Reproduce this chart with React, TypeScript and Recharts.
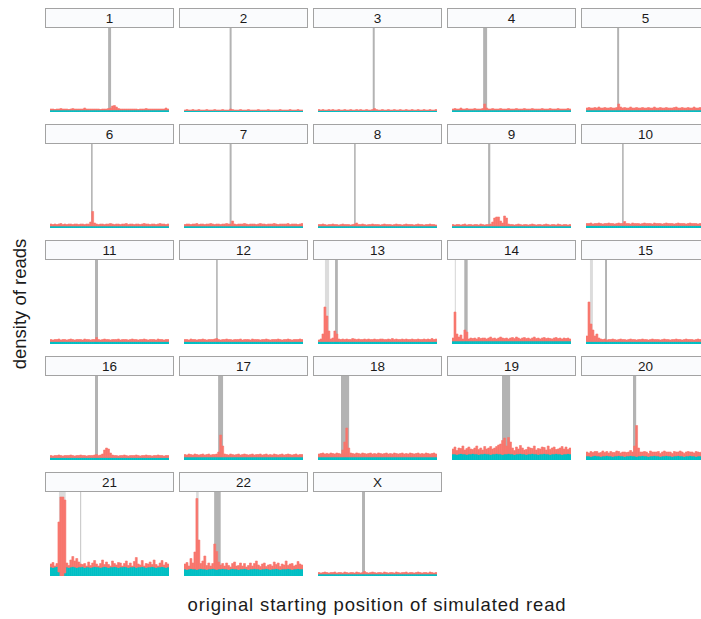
import React from 'react';
import { BarChart, Bar, XAxis, YAxis, ReferenceArea } from 'recharts';

// every chromosome is cut into the same number of bins (free x scale per facet)
const NBINS = 60;
const FONT = "'Liberation Sans', Arial, Helvetica, sans-serif";
const TEAL = '#00BFC4';
const RED = '#F8766D';

const chromosomes = ['1', '2', '3', '4', '5', '6', '7', '8', '9', '10', '11', '12',
  '13', '14', '15', '16', '17', '18', '19', '20', '21', '22', 'X'];

// density of reads per bin, teal = bottom part, red = part stacked on top
const teal1 = [
  2, 2, 2, 2, 2, 2, 2, 2, 2, 2,
  2, 2, 2, 2, 2, 2, 2, 2, 2, 2,
  2, 2, 2, 2, 2, 2, 2, 2, 2, 2,
  2, 2, 2, 2, 2, 2, 2, 2, 2, 2,
  2, 2, 2, 2, 2, 2, 2, 2, 2, 2,
  2, 2, 2, 2, 2, 2, 2, 2, 2, 2,
];
const red1 = [
  1, 1, 0.5, 1, 1, 1.5, 1, 1, 1, 0.5,
  1, 1.5, 1, 1, 1, 1, 1, 2, 1, 1,
  1, 1, 1, 1, 1, 0.5, 1, 1, 1, 1.5,
  2, 4, 4.5, 3, 1.5, 1, 1, 1, 1, 1,
  1, 1, 1, 1, 0.5, 1, 1, 1, 1.5, 1,
  1, 1, 1, 1, 1, 1, 1, 1, 2, 1,
];
const teal2 = [
  1.5, 1.5, 1.5, 1.5, 1.5, 1.5, 1.5, 1.5, 1.5, 1.5,
  1.5, 1.5, 1.5, 1.5, 1.5, 1.5, 1.5, 1.5, 1.5, 1.5,
  1.5, 1.5, 1.5, 1.5, 1.5, 1.5, 1.5, 1.5, 1.5, 1.5,
  1.5, 1.5, 1.5, 1.5, 1.5, 1.5, 1.5, 1.5, 1.5, 1.5,
  1.5, 1.5, 1.5, 1.5, 1.5, 1.5, 1.5, 1.5, 1.5, 1.5,
  1.5, 1.5, 1.5, 1.5, 1.5, 1.5, 1.5, 1.5, 1.5, 1.5,
];
const red2 = [
  0.5, 1, 0.5, 0.5, 1, 0.5, 0.5, 1, 0.5, 0.5,
  0.5, 1, 0.5, 0.5, 0.5, 1, 0.5, 0.5, 0.5, 1,
  0.5, 0.5, 0.5, 1.5, 1, 0.5, 0.5, 0.5, 1, 0.5,
  0.5, 0.5, 1, 0.5, 0.5, 0.5, 0.5, 1, 0.5, 0.5,
  0.5, 0.5, 1, 0.5, 0.5, 0.5, 0.5, 0.5, 1, 0.5,
  0.5, 0.5, 0.5, 1, 0.5, 0.5, 0.5, 1, 0.5, 0.5,
];
const teal3 = [
  1.5, 1.5, 1.5, 1.5, 1.5, 1.5, 1.5, 1.5, 1.5, 1.5,
  1.5, 1.5, 1.5, 1.5, 1.5, 1.5, 1.5, 1.5, 1.5, 1.5,
  1.5, 1.5, 1.5, 1.5, 1.5, 1.5, 1.5, 1.5, 1.5, 1.5,
  1.5, 1.5, 1.5, 1.5, 1.5, 1.5, 1.5, 1.5, 1.5, 1.5,
  1.5, 1.5, 1.5, 1.5, 1.5, 1.5, 1.5, 1.5, 1.5, 1.5,
  1.5, 1.5, 1.5, 1.5, 1.5, 1.5, 1.5, 1.5, 1.5, 1.5,
];
const red3 = [
  1, 0.5, 1, 0.5, 0.5, 1, 0.5, 1, 0.5, 0.5,
  1, 0.5, 0.5, 1, 0.5, 0.5, 1, 0.5, 0.5, 1,
  0.5, 1, 0.5, 0.5, 1, 0.5, 0.5, 1, 2, 1,
  0.5, 0.5, 1, 0.5, 0.5, 1, 0.5, 0.5, 1, 0.5,
  0.5, 1, 0.5, 0.5, 1, 0.5, 0.5, 1, 0.5, 0.5,
  1, 0.5, 0.5, 1, 0.5, 0.5, 1, 0.5, 0.5, 1,
];
const teal4 = [
  2, 2, 2, 2, 2, 2, 2, 2, 2, 2,
  2, 2, 2, 2, 2, 2, 2, 2, 2, 2,
  2, 2, 2, 2, 2, 2, 2, 2, 2, 2,
  2, 2, 2, 2, 2, 2, 2, 2, 2, 2,
  2, 2, 2, 2, 2, 2, 2, 2, 2, 2,
  2, 2, 2, 2, 2, 2, 2, 2, 2, 2,
];
const red4 = [
  1, 1.5, 1, 1, 2, 1, 1, 1.5, 1, 1,
  1, 1.5, 1, 1, 1, 1.5, 6, 2, 1, 1,
  1.5, 1, 1, 1, 1.5, 1, 1, 1, 1.5, 1,
  1, 1, 1.5, 1, 1, 1, 1.5, 1, 1, 1,
  1.5, 1, 1, 1, 1, 1.5, 1, 1, 1, 1.5,
  1, 1, 1, 1.5, 1, 1, 1, 1, 1.5, 1,
];
const teal5 = [
  2, 2, 2, 2, 2, 2, 2, 2, 2, 2,
  2, 2, 2, 2, 2, 2, 2, 2, 2, 2,
  2, 2, 2, 2, 2, 2, 2, 2, 2, 2,
  2, 2, 2, 2, 2, 2, 2, 2, 2, 2,
  2, 2, 2, 2, 2, 2, 2, 2, 2, 2,
  2, 2, 2, 2, 2, 2, 2, 2, 2, 2,
];
const red5 = [
  2, 2.5, 2, 2, 2.5, 2, 3, 2, 2, 2.5,
  2, 2, 2.5, 2, 2, 2.5, 6, 3, 2, 2.5,
  2, 2, 3, 2, 2, 2.5, 2, 2, 2.5, 2,
  2, 2.5, 2, 2, 3, 2, 2, 2.5, 2, 2,
  2.5, 2, 2, 2, 2.5, 3, 2, 2, 2.5, 2,
  2, 2.5, 2, 2, 3, 2, 2, 2.5, 2, 2,
];
const teal6 = [
  2, 2, 2, 2, 2, 2, 2, 2, 2, 2,
  2, 2, 2, 2, 2, 2, 2, 2, 2, 2,
  2, 2, 2, 2, 2, 2, 2, 2, 2, 2,
  2, 2, 2, 2, 2, 2, 2, 2, 2, 2,
  2, 2, 2, 2, 2, 2, 2, 2, 2, 2,
  2, 2, 2, 2, 2, 2, 2, 2, 2, 2,
];
const red6 = [
  2, 1.5, 2, 1.5, 2, 2.5, 1.5, 2, 1.5, 2,
  2, 1.5, 2, 2, 1.5, 2, 2, 1.5, 2, 2,
  4, 14.5, 3, 2, 1.5, 2, 2, 1.5, 2, 2,
  2.5, 2, 1.5, 2, 2, 1.5, 2, 2, 2.5, 1.5,
  2, 2, 1.5, 2, 2, 1.5, 2, 2.5, 2, 2,
  1.5, 2, 2, 1.5, 2, 2.5, 2, 2, 1.5, 2,
];
const teal7 = [
  2, 2, 2, 2, 2, 2, 2, 2, 2, 2,
  2, 2, 2, 2, 2, 2, 2, 2, 2, 2,
  2, 2, 2, 2, 2, 2, 2, 2, 2, 2,
  2, 2, 2, 2, 2, 2, 2, 2, 2, 2,
  2, 2, 2, 2, 2, 2, 2, 2, 2, 2,
  2, 2, 2, 2, 2, 2, 2, 2, 2, 2,
];
const red7 = [
  1.5, 2, 2, 1.5, 2, 2, 2.5, 1.5, 2, 2,
  1.5, 2, 2, 2.5, 2, 1.5, 2, 2, 1.5, 2,
  2, 2.5, 2, 2, 5, 2, 1.5, 2, 2, 2,
  2.5, 2, 1.5, 2, 2, 2, 1.5, 2, 2.5, 2,
  2, 1.5, 2, 2, 2, 2.5, 2, 1.5, 2, 2,
  2, 2, 2.5, 1.5, 2, 2, 2, 1.5, 2, 2.5,
];
const teal8 = [
  2, 2, 2, 2, 2, 2, 2, 2, 2, 2,
  2, 2, 2, 2, 2, 2, 2, 2, 2, 2,
  2, 2, 2, 2, 2, 2, 2, 2, 2, 2,
  2, 2, 2, 2, 2, 2, 2, 2, 2, 2,
  2, 2, 2, 2, 2, 2, 2, 2, 2, 2,
  2, 2, 2, 2, 2, 2, 2, 2, 2, 2,
];
const red8 = [
  1.5, 1.5, 2, 1.5, 1, 1.5, 1.5, 2, 1.5, 1.5,
  1, 1.5, 2, 1.5, 1.5, 1.5, 1, 1.5, 2, 3,
  1.5, 1.5, 2, 1.5, 1, 1.5, 1.5, 2, 1.5, 1.5,
  1.5, 1, 1.5, 2, 1.5, 1.5, 1.5, 1, 1.5, 2,
  1.5, 1.5, 1, 1.5, 2, 1.5, 1.5, 1.5, 1, 1.5,
  2, 1.5, 1.5, 1, 1.5, 1.5, 2, 1.5, 1.5, 1,
];
const teal9 = [
  2, 2, 2, 2, 2, 2, 2, 2, 2, 2,
  2, 2, 2, 2, 2, 2, 2, 2, 2, 2,
  2, 2, 2, 2, 2, 2, 2, 2, 2, 2,
  2, 2, 2, 2, 2, 2, 2, 2, 2, 2,
  2, 2, 2, 2, 2, 2, 2, 2, 2, 2,
  2, 2, 2, 2, 2, 2, 2, 2, 2, 2,
];
const red9 = [
  1.5, 1, 1.5, 1.5, 1, 1.5, 2, 1, 1.5, 1.5,
  1, 1.5, 1.5, 1, 2, 1.5, 1, 1.5, 1.5, 2,
  4, 8, 9, 9, 5, 3, 10, 8, 2, 1.5,
  1.5, 1, 1.5, 2, 1.5, 1, 1.5, 1.5, 1, 1.5,
  2, 1.5, 1, 1.5, 1.5, 1, 1.5, 2, 1.5, 1,
  1.5, 1.5, 1, 2, 1.5, 1, 1.5, 1.5, 1, 1.5,
];
const teal10 = [
  2.5, 2.5, 2.5, 2.5, 2.5, 2.5, 2.5, 2.5, 2.5, 2.5,
  2.5, 2.5, 2.5, 2.5, 2.5, 2.5, 2.5, 2.5, 2.5, 2.5,
  2.5, 2.5, 2.5, 2.5, 2.5, 2.5, 2.5, 2.5, 2.5, 2.5,
  2.5, 2.5, 2.5, 2.5, 2.5, 2.5, 2.5, 2.5, 2.5, 2.5,
  2.5, 2.5, 2.5, 2.5, 2.5, 2.5, 2.5, 2.5, 2.5, 2.5,
  2.5, 2.5, 2.5, 2.5, 2.5, 2.5, 2.5, 2.5, 2.5, 2.5,
];
const red10 = [
  2, 2, 2.5, 1.5, 2, 2, 2.5, 2, 1.5, 2,
  2, 2.5, 2, 2, 1.5, 2, 2.5, 2, 2, 4,
  2, 2, 1.5, 2.5, 2, 2, 2, 1.5, 2, 2.5,
  2, 2, 2, 1.5, 2.5, 2, 2, 2, 1.5, 2,
  2.5, 2, 2, 2, 1.5, 2, 2.5, 2, 2, 2,
  1.5, 2, 2.5, 2, 2, 2, 1.5, 2, 2.5, 2,
];
const teal11 = [
  2.5, 2.5, 2.5, 2.5, 2.5, 2.5, 2.5, 2.5, 2.5, 2.5,
  2.5, 2.5, 2.5, 2.5, 2.5, 2.5, 2.5, 2.5, 2.5, 2.5,
  2.5, 2.5, 2.5, 2.5, 2.5, 2.5, 2.5, 2.5, 2.5, 2.5,
  2.5, 2.5, 2.5, 2.5, 2.5, 2.5, 2.5, 2.5, 2.5, 2.5,
  2.5, 2.5, 2.5, 2.5, 2.5, 2.5, 2.5, 2.5, 2.5, 2.5,
  2.5, 2.5, 2.5, 2.5, 2.5, 2.5, 2.5, 2.5, 2.5, 2.5,
];
const red11 = [
  2, 1.5, 2, 2, 2.5, 1.5, 2, 2, 1.5, 2,
  2.5, 2, 1.5, 2, 2, 2, 1.5, 2.5, 2, 2,
  1.5, 2, 2, 4, 2, 1.5, 2, 2.5, 2, 2,
  1.5, 2, 2, 2, 2.5, 1.5, 2, 2, 2, 1.5,
  2, 2.5, 2, 2, 1.5, 2, 2, 2.5, 2, 1.5,
  2, 2, 2, 1.5, 2.5, 2, 2, 1.5, 2, 2,
];
const teal12 = [
  2.5, 2.5, 2.5, 2.5, 2.5, 2.5, 2.5, 2.5, 2.5, 2.5,
  2.5, 2.5, 2.5, 2.5, 2.5, 2.5, 2.5, 2.5, 2.5, 2.5,
  2.5, 2.5, 2.5, 2.5, 2.5, 2.5, 2.5, 2.5, 2.5, 2.5,
  2.5, 2.5, 2.5, 2.5, 2.5, 2.5, 2.5, 2.5, 2.5, 2.5,
  2.5, 2.5, 2.5, 2.5, 2.5, 2.5, 2.5, 2.5, 2.5, 2.5,
  2.5, 2.5, 2.5, 2.5, 2.5, 2.5, 2.5, 2.5, 2.5, 2.5,
];
const red12 = [
  2, 2, 1.5, 2.5, 2, 2, 1.5, 2, 2, 2.5,
  2, 1.5, 2, 2, 2, 2.5, 3, 2, 1.5, 2,
  2, 2.5, 2, 2, 1.5, 2, 2, 2, 2.5, 1.5,
  2, 2, 2, 1.5, 2.5, 2, 2, 2, 1.5, 2,
  2, 2.5, 2, 1.5, 2, 2, 2, 2.5, 2, 1.5,
  2, 2, 2.5, 2, 1.5, 2, 2, 2, 2.5, 2,
];
const teal13 = [
  2.5, 2.5, 2.5, 2.5, 2.5, 2.5, 2.5, 2.5, 2.5, 2.5,
  2.5, 2.5, 2.5, 2.5, 2.5, 2.5, 2.5, 2.5, 2.5, 2.5,
  2.5, 2.5, 2.5, 2.5, 2.5, 2.5, 2.5, 2.5, 2.5, 2.5,
  2.5, 2.5, 2.5, 2.5, 2.5, 2.5, 2.5, 2.5, 2.5, 2.5,
  2.5, 2.5, 2.5, 2.5, 2.5, 2.5, 2.5, 2.5, 2.5, 2.5,
  2.5, 2.5, 2.5, 2.5, 2.5, 2.5, 2.5, 2.5, 2.5, 2.5,
];
const red13 = [
  1.5, 2.5, 7.5, 34.5, 25.5, 10.5, 2.5, 3.5, 10.5, 7.5,
  2.5, 2, 2.5, 2, 2.5, 2, 2, 3, 2.5, 2,
  2.5, 2, 2, 2.5, 2, 2.5, 2, 2, 2.5, 2,
  2, 2.5, 2.5, 2, 2, 2.5, 2, 3, 2, 2.5,
  2, 2, 2.5, 2, 2.5, 2, 2, 2.5, 2, 2,
  2.5, 2, 2, 2.5, 2, 2.5, 2, 3, 2, 2.5,
];
const teal14 = [
  3, 3, 3, 3, 3, 3, 3, 3, 3, 3,
  3, 3, 3, 3, 3, 3, 3, 3, 3, 3,
  3, 3, 3, 3, 3, 3, 3, 3, 3, 3,
  3, 3, 3, 3, 3, 3, 3, 3, 3, 3,
  3, 3, 3, 3, 3, 3, 3, 3, 3, 3,
  3, 3, 3, 3, 3, 3, 3, 3, 3, 3,
];
const red14 = [
  3, 29, 7, 4, 6, 2, 11, 9, 2, 3,
  2.5, 3, 2, 3.5, 2.5, 3, 3, 2, 3, 4,
  2.5, 3, 2, 3, 4, 3, 2.5, 3, 2, 3,
  3.5, 2.5, 4, 3, 2, 3, 3.5, 2.5, 3, 2,
  3, 4, 2.5, 3, 2, 3, 3.5, 2.5, 3, 2.5,
  2, 3, 3.5, 2.5, 3, 2, 3, 2.5, 3, 2,
];
const teal15 = [
  2.5, 2.5, 2.5, 2.5, 2.5, 2.5, 2.5, 2.5, 2.5, 2.5,
  2.5, 2.5, 2.5, 2.5, 2.5, 2.5, 2.5, 2.5, 2.5, 2.5,
  2.5, 2.5, 2.5, 2.5, 2.5, 2.5, 2.5, 2.5, 2.5, 2.5,
  2.5, 2.5, 2.5, 2.5, 2.5, 2.5, 2.5, 2.5, 2.5, 2.5,
  2.5, 2.5, 2.5, 2.5, 2.5, 2.5, 2.5, 2.5, 2.5, 2.5,
  2.5, 2.5, 2.5, 2.5, 2.5, 2.5, 2.5, 2.5, 2.5, 2.5,
];
const red15 = [
  5.5, 39.5, 17.5, 11.5, 5.5, 7.5, 3.5, 2.5, 2, 2.5,
  1.5, 2, 2, 2.5, 2, 1.5, 2, 2.5, 2, 2,
  1.5, 2, 2.5, 2, 2, 1.5, 2, 2, 2.5, 2,
  2, 1.5, 2, 2.5, 2, 2, 2, 1.5, 2, 2.5,
  2, 2, 1.5, 2, 2, 2.5, 2, 2, 1.5, 2,
  2.5, 2, 2, 2, 1.5, 2, 2.5, 2, 2, 1.5,
];
const teal16 = [
  2.5, 2.5, 2.5, 2.5, 2.5, 2.5, 2.5, 2.5, 2.5, 2.5,
  2.5, 2.5, 2.5, 2.5, 2.5, 2.5, 2.5, 2.5, 2.5, 2.5,
  2.5, 2.5, 2.5, 2.5, 2.5, 2.5, 2.5, 2.5, 2.5, 2.5,
  2.5, 2.5, 2.5, 2.5, 2.5, 2.5, 2.5, 2.5, 2.5, 2.5,
  2.5, 2.5, 2.5, 2.5, 2.5, 2.5, 2.5, 2.5, 2.5, 2.5,
  2.5, 2.5, 2.5, 2.5, 2.5, 2.5, 2.5, 2.5, 2.5, 2.5,
];
const red16 = [
  2, 1.5, 2, 2, 2.5, 2, 1.5, 2, 2, 2,
  2.5, 2, 1.5, 2, 2, 2.5, 2, 2, 1.5, 2,
  2, 2, 2.5, 3, 2, 2.5, 3.5, 7.5, 9.5, 8.5,
  4.5, 2.5, 2, 2, 1.5, 2, 2, 2.5, 2, 1.5,
  2, 2, 2, 2.5, 2, 1.5, 2, 2, 2.5, 2,
  2, 1.5, 2, 2, 2.5, 2, 2, 1.5, 2, 2,
];
const teal17 = [
  3, 3, 3, 3, 3, 3, 3, 3, 3, 3,
  3, 3, 3, 3, 3, 3, 3, 3, 3, 3,
  3, 3, 3, 3, 3, 3, 3, 3, 3, 3,
  3, 3, 3, 3, 3, 3, 3, 3, 3, 3,
  3, 3, 3, 3, 3, 3, 3, 3, 3, 3,
  3, 3, 3, 3, 3, 3, 3, 3, 3, 3,
];
const red17 = [
  2.5, 2, 3, 2.5, 2, 3, 2.5, 2, 2.5, 3,
  2, 2.5, 3, 2, 2.5, 2.5, 3, 5, 22, 11,
  3, 2.5, 2, 3, 2.5, 2, 2.5, 3, 2, 2.5,
  3, 2.5, 2, 2.5, 3, 2, 2.5, 2.5, 3, 2,
  2.5, 3, 2, 2.5, 2, 3, 2.5, 2, 2.5, 3,
  2, 2.5, 3, 2.5, 2, 2.5, 3, 2, 2.5, 2.5,
];
const teal18 = [
  3, 3, 3, 3, 3, 3, 3, 3, 3, 3,
  3, 3, 3, 3, 3, 3, 3, 3, 3, 3,
  3, 3, 3, 3, 3, 3, 3, 3, 3, 3,
  3, 3, 3, 3, 3, 3, 3, 3, 3, 3,
  3, 3, 3, 3, 3, 3, 3, 3, 3, 3,
  3, 3, 3, 3, 3, 3, 3, 3, 3, 3,
];
const red18 = [
  3, 3.5, 4, 3, 3.5, 3, 4, 3.5, 3, 4,
  3.5, 3, 7, 15, 29, 9, 4, 3.5, 3, 4,
  3.5, 3, 4, 3.5, 3, 3.5, 4, 3, 3.5, 3,
  4, 3.5, 3, 3.5, 4, 3, 3.5, 3, 4, 3.5,
  3, 3.5, 4, 3, 3.5, 3, 4, 3.5, 3, 3.5,
  4, 3, 3.5, 3, 4, 3.5, 3, 3.5, 4, 3,
];
const teal19 = [
  6, 6, 5.5, 6, 6.5, 6, 6, 5.5, 6, 6,
  6.5, 6, 6, 5.5, 6, 6, 6.5, 6, 6, 5.5,
  6, 6, 6.5, 6, 6, 5.5, 6, 6, 6.5, 6,
  6, 5.5, 6, 6, 6.5, 6, 6, 5.5, 6, 6,
  6.5, 6, 6, 5.5, 6, 6, 6.5, 6, 6, 5.5,
  6, 6, 6.5, 6, 6, 5.5, 6, 6, 6.5, 6,
];
const red19 = [
  5, 7, 4, 6, 5, 8, 4, 6, 7, 5,
  4, 6, 8, 5, 6, 4, 7, 5, 6, 8,
  5, 6, 7, 9, 10, 14, 16, 8, 16, 12,
  6, 4, 7, 5, 8, 6, 4, 5, 7, 6,
  5, 8, 4, 6, 5, 7, 6, 4, 8, 5,
  6, 7, 4, 5, 6, 8, 5, 7, 4, 6,
];
const teal20 = [
  4, 4, 3.5, 4, 4.5, 4, 4, 3.5, 4, 4,
  4.5, 4, 4, 3.5, 4, 4, 4.5, 4, 4, 3.5,
  4, 4, 4.5, 4, 4, 3.5, 4, 4, 4.5, 4,
  4, 3.5, 4, 4, 4.5, 4, 4, 3.5, 4, 4,
  4.5, 4, 4, 3.5, 4, 4, 4.5, 4, 4, 3.5,
  4, 4, 4.5, 4, 4, 3.5, 4, 4, 4.5, 4,
];
const red20 = [
  4, 3, 5, 3.5, 4, 4.5, 3, 4, 5, 3.5,
  4, 3, 4.5, 4, 3.5, 5, 4, 3, 4, 4.5,
  3.5, 4, 5, 4, 10, 31, 8, 4, 3.5, 4.5,
  4, 3, 5, 4, 3.5, 4, 4.5, 3, 4, 5,
  3.5, 4, 4, 3, 4.5, 4, 3.5, 5, 4, 3,
  4, 4.5, 3.5, 4, 3, 5, 4, 3.5, 4, 4.5,
];
const teal21 = [
  9, 8.5, 9, 9.5, 4, 0, 0, 3, 9, 8.5,
  9, 9.5, 9, 8.5, 9, 9, 9.5, 8.5, 9, 9,
  8.5, 9, 9.5, 9, 9, 8.5, 9, 9.5, 9, 8.5,
  9, 9, 9.5, 9, 8.5, 9, 9, 9.5, 9, 8.5,
  9, 9, 9.5, 8.5, 9, 9, 9.5, 9, 8.5, 9,
  9, 9.5, 9, 8.5, 9, 9, 9.5, 9, 8.5, 9,
];
const red21 = [
  3, 5, 1, 3, 50, 79, 79, 73, 4, 2,
  7, 10, 6, 9, 5, 3, 2, 4, 1, 5,
  2, 4, 6, 3, 1, 4, 7, 2, 5, 3,
  1, 6, 3, 2, 5, 4, 1, 3, 6, 2,
  4, 1, 5, 10, 3, 2, 6, 1, 4, 3,
  5, 2, 7, 3, 1, 4, 6, 2, 5, 3,
];
const teal22 = [
  7, 6.5, 7, 7.5, 7, 7, 6.5, 7, 7.5, 7,
  7, 6.5, 7, 7, 7.5, 7, 6.5, 7, 7, 7.5,
  7, 7, 6.5, 7, 7.5, 7, 7, 6.5, 7, 7,
  7.5, 7, 6.5, 7, 7, 7.5, 7, 7, 6.5, 7,
  7, 7.5, 7, 6.5, 7, 7, 7.5, 7, 6.5, 7,
  7, 7, 7.5, 7, 6.5, 7, 7, 7.5, 7, 7,
];
const red22 = [
  5, 7, 3, 10, 6, 17, 71, 29, 5, 8,
  13, 4, 6, 3, 5, 25, 18, 7, 4, 5,
  3, 6, 4, 2, 5, 7, 3, 4, 6, 3,
  5, 2, 4, 6, 3, 5, 8, 4, 3, 5,
  6, 2, 4, 5, 3, 7, 4, 6, 3, 5,
  4, 8, 3, 5, 6, 3, 4, 7, 5, 4,
];
const tealX = [
  2, 2, 2, 2, 2, 2, 2, 2, 2, 2,
  2, 2, 2, 2, 2, 2, 2, 2, 2, 2,
  2, 2, 2, 2, 2, 2, 2, 2, 2, 2,
  2, 2, 2, 2, 2, 2, 2, 2, 2, 2,
  2, 2, 2, 2, 2, 2, 2, 2, 2, 2,
  2, 2, 2, 2, 2, 2, 2, 2, 2, 2,
];
const redX = [
  1.5, 1, 1.5, 2, 1.5, 1, 1.5, 1.5, 2, 1,
  1.5, 1.5, 1, 2, 1.5, 1, 1.5, 1.5, 1, 2,
  1.5, 1, 1.5, 2.5, 1.5, 1, 1.5, 2, 1.5, 1,
  1.5, 1.5, 1, 2, 1.5, 1, 1.5, 1.5, 1, 2,
  1.5, 1, 1.5, 1.5, 2, 1, 1.5, 1.5, 1, 1.5,
  2, 1.5, 1, 1.5, 1.5, 1, 2, 1.5, 1, 1.5,
];

const tealSeries = [teal1, teal2, teal3, teal4, teal5, teal6, teal7, teal8, teal9, teal10, teal11,
  teal12, teal13, teal14, teal15, teal16, teal17, teal18, teal19, teal20, teal21, teal22, tealX];
const redSeries = [red1, red2, red3, red4, red5, red6, red7, red8, red9, red10, red11,
  red12, red13, red14, red15, red16, red17, red18, red19, red20, red21, red22, redX];

// centromere region (dark band) per chromosome, in bin units
const centromeres: [number, number][] = [
  [29.3, 30.8], [23.0, 24.0], [27.6, 28.6], [15.7, 17.7], [15.7, 16.7],
  [20.7, 21.5], [23.0, 24.0], [18.2, 19.0], [18.2, 19.3], [18.2, 19.0],
  [22.7, 24.2], [16.2, 17.0], [8.6, 10.0], [6.2, 7.9], [9.6, 10.6],
  [22.7, 24.2], [17.2, 19.7], [11.6, 15.7], [25.2, 29.3], [23.7, 25.3],
  [15.3, 15.7], [15.2, 18.5], [22.2, 23.7],
];
// short-arm gaps (light band), only on the acrocentric ones
const gaps: ([number, number] | null)[] = [
  null, null, null, null, null, null, null, null, null, null, null, null,
  [3.5, 5.6], [1.4, 2.0], [2.0, 3.5], null, null, null, null, null,
  [4.5, 7.9], [6.1, 7.4], null,
];

function Panel({ label, teal, red, band, gap, left, top }: any) {
  const data = teal.map((t: number, i: number) => ({ bin: i + 0.5, teal: t, red: red[i] }));
  return (
    <div style={{ position: 'absolute', left, top, width: 129 }}>
      <div
        style={{
          height: 20,
          boxSizing: 'border-box',
          border: '1px solid #a3a3a3',
          background: '#fafbfd',
          textAlign: 'center',
          fontSize: 13.5,
          lineHeight: '20px',
          color: '#1a1a1a',
        }}
      >
        {label}
      </div>
      <BarChart
        width={129}
        height={84}
        data={data}
        margin={{ top: 0, right: 5, bottom: 0, left: 5 }}
        barCategoryGap={0}
        barGap={0}
      >
        <XAxis dataKey="bin" type="number" domain={[0, NBINS]} allowDataOverflow hide />
        <YAxis type="number" domain={[0, 84]} allowDataOverflow hide />
        {gap && <ReferenceArea x1={gap[0]} x2={gap[1]} fill="#dcdcdc" fillOpacity={1} stroke="none" />}
        <ReferenceArea x1={band[0]} x2={band[1]} fill="#b3b3b3" fillOpacity={1} stroke="none" />
        {/* thin same-colour stroke closes the anti-aliasing seams between adjacent bins */}
        <Bar dataKey="teal" stackId="s" fill={TEAL} stroke={TEAL} strokeWidth={0.6} barSize={1.98} isAnimationActive={false} />
        <Bar dataKey="red" stackId="s" fill={RED} stroke={RED} strokeWidth={0.6} barSize={1.98} isAnimationActive={false} />
      </BarChart>
    </div>
  );
}

export default function App() {
  return (
    <div
      style={{
        position: 'absolute',
        left: 0,
        top: 0,
        width: 701,
        height: 619,
        overflow: 'hidden',
        background: '#ffffff',
        fontFamily: FONT,
      }}
    >
      {chromosomes.map((c, k) => (
        <Panel
          key={c}
          label={c}
          teal={tealSeries[k]}
          red={redSeries[k]}
          band={centromeres[k]}
          gap={gaps[k]}
          left={45 + (k % 5) * 134}
          top={8 + Math.floor(k / 5) * 116}
        />
      ))}
      <div
        style={{
          position: 'absolute',
          left: 20,
          top: 304,
          transform: 'translate(-50%, -50%) rotate(-90deg)',
          whiteSpace: 'nowrap',
          fontSize: 18.5,
          color: '#1a1a1a',
        }}
      >
        density of reads
      </div>
      <div
        style={{
          position: 'absolute',
          left: 377,
          top: 594,
          transform: 'translateX(-50%)',
          whiteSpace: 'nowrap',
          fontSize: 18.5,
          letterSpacing: 0.85,
          color: '#1a1a1a',
        }}
      >
        original starting position of simulated read
      </div>
    </div>
  );
}
